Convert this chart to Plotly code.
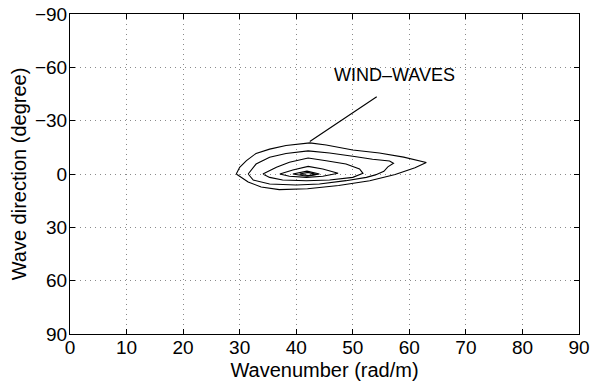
import plotly.graph_objects as go

# Contour levels (wavenumber rad/m, direction degree)
c1_x = [29.4, 30.0, 31.2, 32.9, 35.3, 38.2, 42.4, 45.3, 50.0, 54.7, 59.0, 63.0, 61.0, 57.5, 53.0, 47.5, 42.0, 37.0, 33.8, 31.5, 29.4]
c1_y = [0.0, -3.8, -7.5, -11.6, -14.0, -16.0, -17.5, -16.3, -13.5, -11.8, -9.5, -6.5, -3.5, 0.3, 3.8, 6.5, 8.3, 8.8, 7.3, 4.5, 0.0]

c2_x = [31.5, 32.9, 35.3, 38.2, 42.1, 45.9, 50.0, 53.5, 56.5, 57.2, 56.2, 55.5, 54.0, 52.4, 48.8, 44.1, 40.0, 35.3, 32.4, 31.5]
c2_y = [0.0, -5.6, -9.4, -11.5, -13.0, -11.8, -10.0, -8.3, -7.3, -6.0, -4.0, -1.5, 0.5, 1.9, 3.75, 5.6, 6.2, 5.6, 3.4, 0.0]

c3_x = [34.1, 36.5, 38.8, 42.1, 45.3, 48.8, 51.2, 51.8, 50.0, 45.9, 41.8, 37.6, 35.3, 34.1]
c3_y = [0.0, -3.8, -6.6, -9.0, -7.5, -5.6, -2.8, -0.4, 1.9, 3.4, 3.8, 3.4, 1.9, 0.0]

c4_x = [37.1, 39.4, 42.1, 44.7, 47.4, 44.7, 41.8, 38.8, 37.1]
c4_y = [0.0, -2.3, -4.3, -2.8, -0.4, 1.3, 1.9, 1.3, 0.0]

c5_x = [39.4, 41.9, 44.1, 41.9, 39.4]
c5_y = [0.0, -1.6, 0.0, 1.3, 0.0]

c6_x = [40.6, 42.1, 43.5, 42.1, 40.6]
c6_y = [0.0, -0.9, 0.2, 0.9, 0.0]

contours = [(c1_x, c1_y), (c2_x, c2_y), (c3_x, c3_y), (c4_x, c4_y), (c5_x, c5_y), (c6_x, c6_y)]

x_ticks = [0, 10, 20, 30, 40, 50, 60, 70, 80, 90]
y_ticks = [-90, -60, -30, 0, 30, 60, 90]
y_tick_labels = ["\u221290", "\u221260", "\u221230", "0", "30", "60", "90"]

label_text = "WIND\u2013WAVES"
label_pos = (57.3, -55.6)
arrow_tail = (54.5, -44.0)
arrow_head = (42.4, -18.3)

fig = go.Figure()
for cx, cy in contours:
    fig.add_trace(go.Scatter(x=cx, y=cy, mode="lines",
                             line=dict(color="black", width=1.1),
                             showlegend=False, hoverinfo="skip"))

fig.add_annotation(x=arrow_head[0], y=arrow_head[1], ax=arrow_tail[0], ay=arrow_tail[1],
                   axref="x", ayref="y", xref="x", yref="y", text="", showarrow=True,
                   arrowhead=0, arrowwidth=1.1, arrowcolor="black")
fig.add_annotation(x=label_pos[0], y=label_pos[1], xref="x", yref="y", text=label_text,
                   showarrow=False, font=dict(size=18, color="black", family="Liberation Sans, Arial"))

axis_common = dict(showline=True, linecolor="black", linewidth=1, mirror="ticks",
                   ticks="inside", ticklen=5, tickcolor="black",
                   showgrid=True, gridcolor="#8a8a8a", griddash="1px,4px", gridwidth=1,
                   zeroline=False, tickfont=dict(size=19, color="black"),
                   title_font=dict(size=20, color="black"), automargin=False)

fig.update_xaxes(range=[0, 90], tickvals=x_ticks, title_text="Wavenumber (rad/m)",
                 title_standoff=6, ticklabelstandoff=-4, **axis_common)
fig.update_yaxes(range=[90, -90], tickvals=y_ticks, ticktext=y_tick_labels,
                 title_text="Wave direction (degree)", title_standoff=2,
                 ticklabelstandoff=-2, **axis_common)

fig.update_layout(width=592, height=384, margin=dict(l=70, r=13, t=14, b=50),
                  plot_bgcolor="white", paper_bgcolor="white",
                  font=dict(family="Liberation Sans, Arial", color="black"))

fig.write_html("out.html", config={"displayModeBar": False},
               post_script="document.body.style.margin='0px';")
